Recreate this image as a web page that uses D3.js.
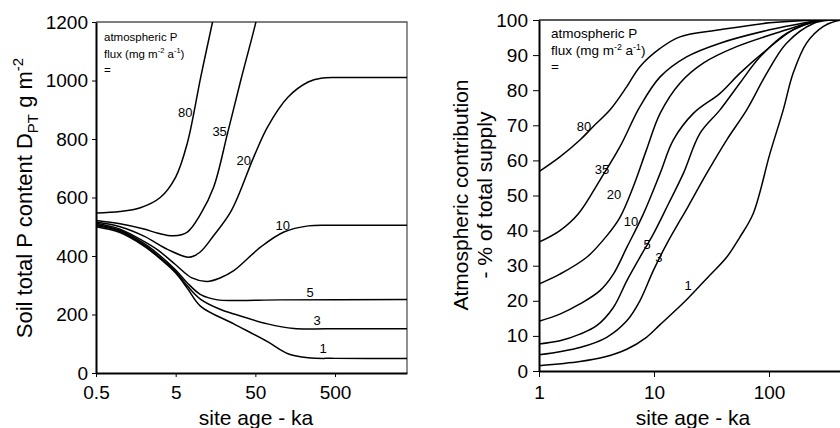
<!DOCTYPE html>
<html>
<head>
<meta charset="utf-8">
<script src="https://cdn.jsdelivr.net/npm/d3@7"></script>
<style>
  body { margin: 0; background: #fff; }
  svg { display: block; font-family: Arial, "Liberation Sans", Helvetica, sans-serif; }
</style>
</head>
<body>
<div id="chart"></div>
<script>
// flux values (mg m-2 a-1) for the curve labels
const fluxLabels = ["80", "35", "20", "10", "5", "3", "1"];

// left panel: soil total P (g m-2) vs site age (ka)
const soil80 = [[0.5,547],[1,552],[1.8,565],[3.2,600],[5,670],[7,786],[10.3,1011],[14.5,1200],[17,1290]];
const soil35 = [[0.5,521],[1,510],[2,492],[3,478],[4.7,469],[7,482],[10.3,544],[15,636],[22.4,820],[32.8,1001],[50.5,1197],[60,1290]];
const soil20 = [[0.5,516],[1,500],[2,468],[4,422],[7.3,396],[10,412],[15,470],[25,555],[47.8,739],[71,841],[128,943],[230,995],[333,1008],[600,1010],[4000,1010]];
const soil10 = [[0.5,512],[1,492],[2,450],[3,420],[5,370],[8,325],[12.4,313],[18,325],[26.8,350],[58.5,431],[114,482],[230,503],[500,505],[4000,505]];
const soil5 = [[0.5,508],[1,488],[2,443],[3,407],[5,352],[7,308],[10.3,268],[16.8,250],[30,248],[100,250],[4000,251]];
const soil3 = [[0.5,504],[1,484],[2,438],[3,401],[5,347],[7,298],[10.3,252],[18,218],[26.8,202],[71,168],[152,152],[400,151],[4000,151]];
const soil1 = [[0.5,500],[1,480],[2,434],[3,397],[5,342],[7,290],[10.3,228],[26.8,168],[71,107],[128,66],[230,52],[500,50],[4000,50]];
const soilLabelAt = [[6.6,892],[17.8,824],[35.7,725],[110,503],[244,274],[297,178],[353,83]];

// right panel: atmospheric contribution (% of total supply) vs site age (ka)
const atm80 = [[1,56.8],[1.52,61],[2.27,65.8],[2.95,69.6],[4.15,74.4],[5.8,81],[7.54,86.7],[11.3,91.9],[16.8,95.2],[37.5,97.2],[101,99.2],[277,100],[1000,100]];
const atm35 = [[1,36.7],[1.52,40],[2.2,44.8],[3.39,54.4],[5.06,63.9],[7.54,75.3],[11.3,83.8],[19.2,89.5],[37.5,93.4],[101,97.2],[196,99.1],[300,100],[1000,100]];
const atm20 = [[1,24.8],[1.52,27.6],[2.6,32.4],[3.88,38.5],[5.06,43.8],[6.6,52.5],[8.6,63],[11.3,73.4],[16.8,82],[26.8,87.7],[52.3,92.4],[142,97.2],[240,99.5],[330,100],[1000,100]];
const atm10 = [[1,14.2],[1.52,16.2],[2.27,19.1],[3.39,22.9],[4.43,27.6],[5.8,35.2],[8.07,44.7],[11.3,56.3],[14.7,65.8],[22,73.4],[37.5,79.1],[55.7,84.8],[95.5,91.5],[162,97.2],[277,99.8],[1000,100]];
const atm5 = [[1,7.7],[1.52,8.6],[2.27,10.5],[3.17,12.9],[4.43,18.1],[5.8,25.7],[7.54,32.4],[9.86,39],[13.3,47.5],[18,56.3],[25.1,67.7],[37.5,74.4],[55.7,82],[83.7,89.5],[142,96.2],[277,99.8],[1000,100]];
const atm3 = [[1,4.6],[2.27,6.7],[3.88,9.6],[5.8,14.3],[7.54,20],[9.86,28.6],[12.9,36.2],[19.9,47],[28.7,56.3],[42.8,65.8],[64,74.4],[95.5,84.8],[142,93.4],[243,99],[350,100],[1000,100]];
const atm1 = [[1,1.5],[2.27,2.7],[3.62,3.9],[5.8,6.2],[8.6,9.6],[11.3,13.2],[19.2,20.3],[30,27],[42.8,32.4],[55.7,38.1],[72.8,44.8],[102,62],[133,74.4],[162,84.8],[212,93.4],[295,98.1],[420,100],[1000,100]];
const atmLabelAt = [[2.46,69.8],[3.53,57.5],[4.49,50.4],[6.31,42.7],[8.7,35.9],[11.0,32.2],[19.8,24.5]];

const soilTicksX = [0.5, 5, 50, 500];
const soilTicksY = [0, 200, 400, 600, 800, 1000, 1200];
const atmTicksX = [1, 10, 100];
const atmTicksY = [0, 10, 20, 30, 40, 50, 60, 70, 80, 90, 100];

const svg = d3.select("#chart").append("svg")
  .attr("width", 840)
  .attr("height", 428);

function drawPanel(opts) {
  const x = d3.scaleLog().domain(opts.xDomain).range(opts.xRange);
  const y = d3.scaleLinear().domain(opts.yDomain).range(opts.yRange);
  const g = svg.append("g");

  g.append("defs").append("clipPath").attr("id", opts.id)
    .append("rect")
    .attr("x", opts.xRange[0]).attr("y", opts.yRange[1])
    .attr("width", opts.xRange[1] - opts.xRange[0])
    .attr("height", opts.yRange[0] - opts.yRange[1]);

  // top / right frame
  g.append("path")
    .attr("fill", "none")
    .attr("stroke", opts.frameColor)
    .attr("stroke-width", 1.3)
    .attr("d", `M${opts.xRange[0]},${opts.yRange[1]}H${opts.xRange[1]}V${opts.yRange[0]}`);

  const line = d3.line()
    .curve(d3.curveCatmullRom.alpha(0.5))
    .x(d => x(d[0]))
    .y(d => y(d[1]));

  g.append("g")
    .attr("clip-path", `url(#${opts.id})`)
    .selectAll("path")
    .data(opts.series)
    .enter()
    .append("path")
    .attr("fill", "none")
    .attr("stroke", "#000")
    .attr("stroke-width", 1.5)
    .attr("d", d => line(d));

  g.selectAll("text.flux")
    .data(opts.labelAt)
    .enter()
    .append("text")
    .attr("class", "flux")
    .attr("x", d => x(d[0]))
    .attr("y", d => y(d[1]))
    .attr("text-anchor", "middle")
    .attr("dominant-baseline", "central")
    .attr("font-size", 13)
    .text((d, i) => fluxLabels[i]);

  const xAxis = g.append("g")
    .attr("transform", `translate(0,${opts.yRange[0]})`)
    .call(d3.axisBottom(x).tickValues(opts.xTicks).tickFormat(d => String(d)).tickSize(opts.tick).tickSizeOuter(0).tickPadding(9));
  const yAxis = g.append("g")
    .attr("transform", `translate(${opts.xRange[0]},0)`)
    .call(d3.axisLeft(y).tickValues(opts.yTicks).tickFormat(d => String(d)).tickSize(opts.tick).tickSizeOuter(0).tickPadding(opts.pad));

  [xAxis, yAxis].forEach(a => {
    a.attr("font-family", null).attr("font-size", 19);
    a.select(".domain").attr("stroke-width", 2);
    a.selectAll(".tick text").attr("fill", "#000");
  });

  // legend heading
  const leg = g.append("text")
    .attr("font-size", opts.legendSize)
    .attr("x", opts.xRange[0] + opts.legendDx)
    .attr("y", opts.legendY);
  leg.append("tspan").text("atmospheric P");
  const l2 = g.append("text")
    .attr("font-size", opts.legendSize)
    .attr("x", opts.xRange[0] + opts.legendDx)
    .attr("y", opts.legendY + 17);
  l2.append("tspan").text("flux (mg m");
  l2.append("tspan").attr("font-size", opts.legendSize * 0.65).attr("dy", -5).text("-2");
  l2.append("tspan").attr("dy", 5).text(" a");
  l2.append("tspan").attr("font-size", opts.legendSize * 0.65).attr("dy", -5).text("-1");
  l2.append("tspan").attr("dy", 5).text(")");
  g.append("text")
    .attr("font-size", opts.legendSize)
    .attr("x", opts.xRange[0] + opts.legendDx)
    .attr("y", opts.legendY + 33)
    .text("=");

  g.append("text")
    .attr("font-size", 21)
    .attr("text-anchor", "middle")
    .attr("x", opts.xTitleX)
    .attr("y", 425)
    .text("site age - ka");

  return g;
}

const left = drawPanel({
  id: "clipSoil",
  xDomain: [0.5, 4000], xRange: [96, 407],
  yDomain: [0, 1200], yRange: [373, 22],
  xTicks: soilTicksX, yTicks: soilTicksY,
  tick: 4, pad: 4,
  series: [soil80, soil35, soil20, soil10, soil5, soil3, soil1],
  labelAt: soilLabelAt,
  frameColor: "#555",
  legendSize: 11.5, legendDx: 8, legendY: 41,
  xTitleX: 256
});

const right = drawPanel({
  id: "clipAtm",
  xDomain: [1, 1000], xRange: [539, 884],
  yDomain: [0, 100], yRange: [371, 20],
  xTicks: atmTicksX, yTicks: atmTicksY,
  tick: 6, pad: 5,
  series: [atm80, atm35, atm20, atm10, atm5, atm3, atm1],
  labelAt: atmLabelAt,
  frameColor: "#222",
  legendSize: 13.5, legendDx: 12, legendY: 38,
  xTitleX: 693
});

// y titles
const yl = svg.append("text")
  .attr("font-size", 22)
  .attr("text-anchor", "middle")
  .attr("transform", "translate(32,198) rotate(-90)");
yl.append("tspan").text("Soil total P content  D");
yl.append("tspan").attr("font-size", 15).attr("dy", 6).text("PT");
yl.append("tspan").attr("dy", -6).text(" g m");
yl.append("tspan").attr("font-size", 15).attr("dy", -9).text("-2");

svg.append("text")
  .attr("font-size", 21)
  .attr("text-anchor", "middle")
  .attr("transform", "translate(468,195) rotate(-90)")
  .text("Atmospheric contribution");
svg.append("text")
  .attr("font-size", 21)
  .attr("text-anchor", "middle")
  .attr("transform", "translate(492,195) rotate(-90)")
  .text("- % of total supply");
</script>
</body>
</html>
